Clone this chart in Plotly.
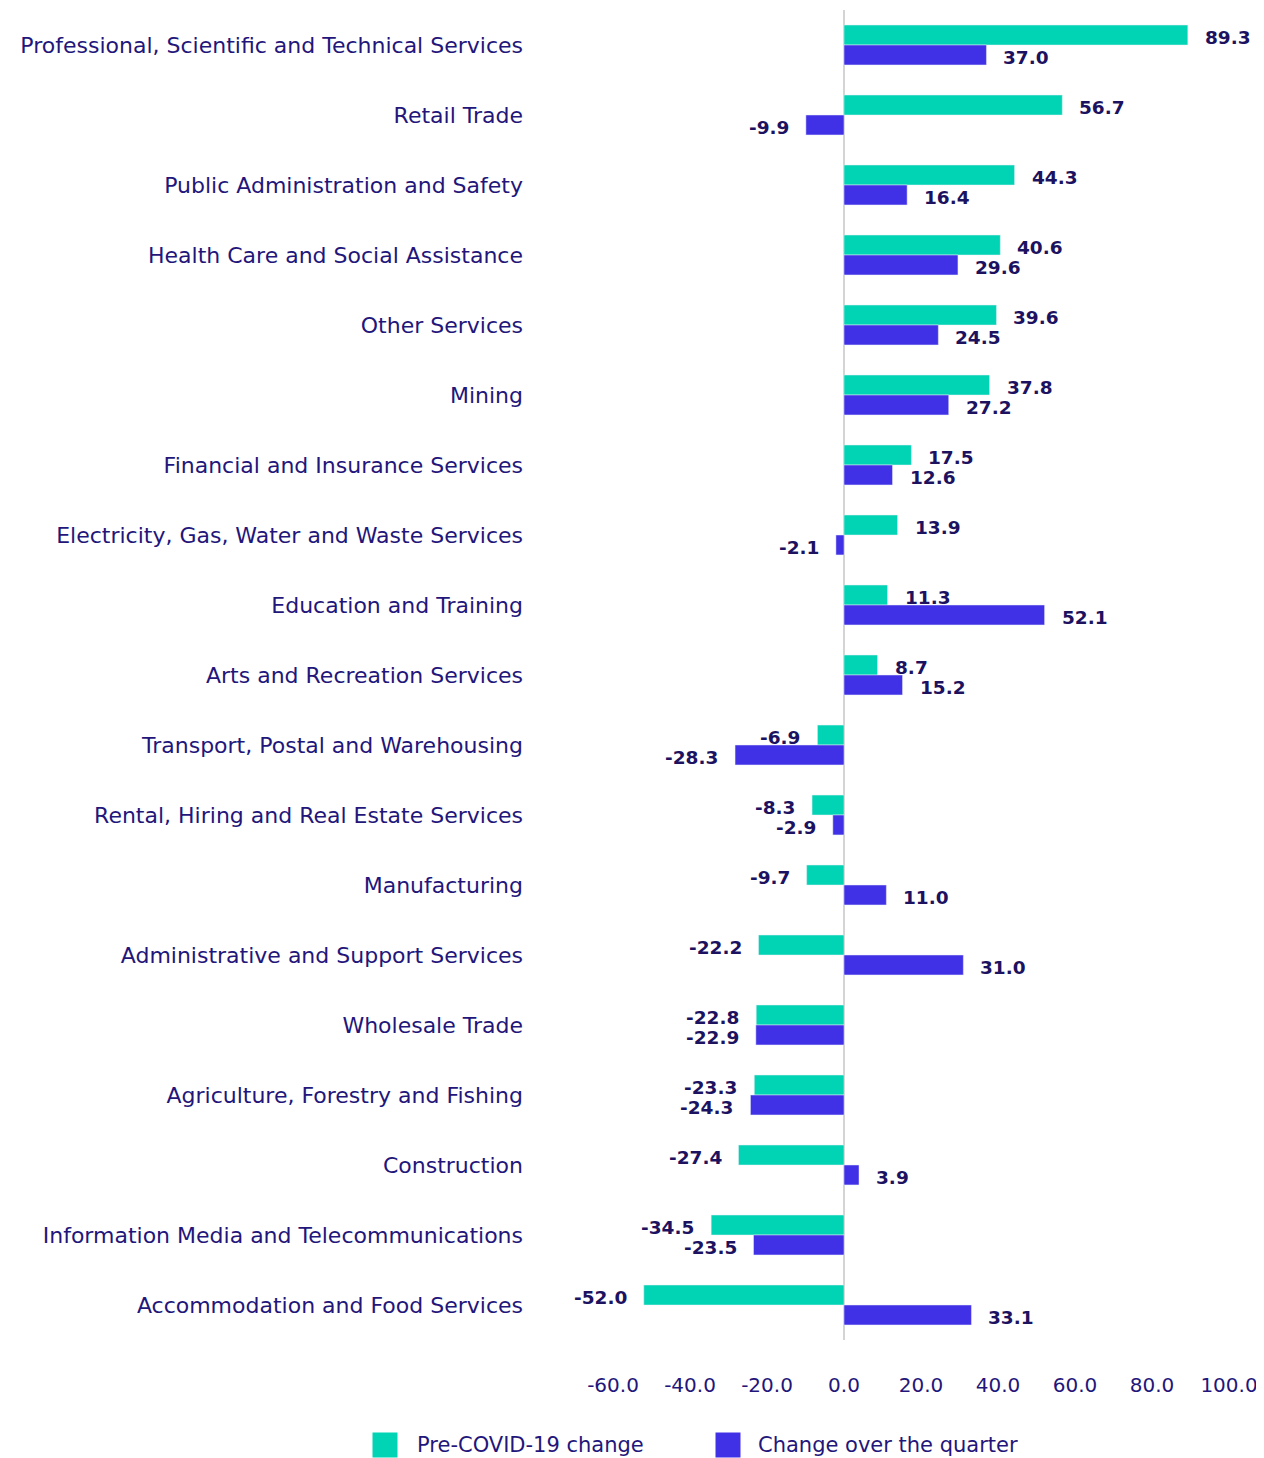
import plotly.graph_objects as go

categories = [
    "Professional, Scientific and Technical Services",
    "Retail Trade",
    "Public Administration and Safety",
    "Health Care and Social Assistance",
    "Other Services",
    "Mining",
    "Financial and Insurance Services",
    "Electricity, Gas, Water and Waste Services",
    "Education and Training",
    "Arts and Recreation Services",
    "Transport, Postal and Warehousing",
    "Rental, Hiring and Real Estate Services",
    "Manufacturing",
    "Administrative and Support Services",
    "Wholesale Trade",
    "Agriculture, Forestry and Fishing",
    "Construction",
    "Information Media and Telecommunications",
    "Accommodation and Food Services",
]
pre_covid = [89.3, 56.7, 44.3, 40.6, 39.6, 37.8, 17.5, 13.9, 11.3, 8.7,
             -6.9, -8.3, -9.7, -22.2, -22.8, -23.3, -27.4, -34.5, -52.0]
quarter = [37.0, -9.9, 16.4, 29.6, 24.5, 27.2, 12.6, -2.1, 52.1, 15.2,
           -28.3, -2.9, 11.0, 31.0, -22.9, -24.3, 3.9, -23.5, 33.1]
tick_vals = [-60, -40, -20, 0, 20, 40, 60, 80, 100]
tick_text = ["-60.0", "-40.0", "-20.0", "0.0", "20.0", "40.0", "60.0", "80.0", "100.0"]
series_names = ["Pre-COVID-19 change", "Change over the quarter"]

TEAL = "#00d4b4"
BLUE = "#4030e6"
TXT = "#23167a"
LBL = "#1c1260"
FONT = "DejaVu Sans"

OFF = 8  # page body margin
W, H = 1264 - OFF, 1458 - OFF
ML = 538 - OFF
MR = 4
MT = 10 - OFF
MB = H - (1340 - OFF)
pw = W - ML - MR
ph = H - MT - MB
zero_px = 844 - OFF
ppu = 3.85
x0 = -(zero_px - ML) / ppu
x1 = x0 + pw / ppu

fig = go.Figure()
fig.add_trace(go.Bar(y=categories, x=pre_covid, orientation="h", name=series_names[0],
                     marker=dict(color=TEAL), showlegend=False))
fig.add_trace(go.Bar(y=categories, x=quarter, orientation="h", name=series_names[1],
                     marker=dict(color=BLUE), showlegend=False))

annotations = []
for series, ysh in ((pre_covid, 8), (quarter, -12)):
    for c, v in zip(categories, series):
        annotations.append(dict(
            x=v, y=c, xref="x", yref="y", text=f"{v:.1f}", showarrow=False,
            xanchor="left" if v >= 0 else "right",
            xshift=15 if v >= 0 else -15, yshift=ysh,
            font=dict(family=FONT, size=18.5, color=LBL, weight="bold"),
        ))

def px_to_paper_x(px):
    return (px - OFF - ML) / pw

def px_to_paper_y(py):
    return (H - MB - (py - OFF)) / ph

leg_y = 1445
shapes = []
for cx, tx, col, name in ((385, 415, TEAL, series_names[0]), (728, 756, BLUE, series_names[1])):
    shapes.append(dict(type="rect", xref="paper", yref="paper",
                       xsizemode="pixel", ysizemode="pixel",
                       xanchor=px_to_paper_x(cx), yanchor=px_to_paper_y(leg_y),
                       x0=-12.5, x1=12.5, y0=-12.5, y1=12.5,
                       fillcolor=col, line=dict(width=0)))
    annotations.append(dict(x=px_to_paper_x(tx), y=px_to_paper_y(leg_y), xref="paper", yref="paper",
                            text=name, showarrow=False, xanchor="left", yanchor="middle",
                            font=dict(family=FONT, size=21, color=TXT)))

fig.update_layout(
    width=W, height=H,
    margin=dict(l=ML, r=MR, t=MT, b=MB),
    paper_bgcolor="white", plot_bgcolor="white",
    barmode="group", bargap=0.43, bargroupgap=0,
    font=dict(family=FONT, size=21, color=TXT),
    annotations=annotations, shapes=shapes,
    xaxis=dict(range=[x0, x1], tickvals=tick_vals, ticktext=tick_text,
               showgrid=False, zeroline=True, zerolinecolor="#d4d4d4", zerolinewidth=2,
               showline=False, ticks="", ticklabelstandoff=31,
               tickfont=dict(family=FONT, size=20, color=TXT)),
    yaxis=dict(autorange="reversed", showgrid=False, showline=False, ticks="",
               ticklabelstandoff=14,
               tickfont=dict(family=FONT, size=22, color=TXT)),
)

fig.write_html("out.html")
